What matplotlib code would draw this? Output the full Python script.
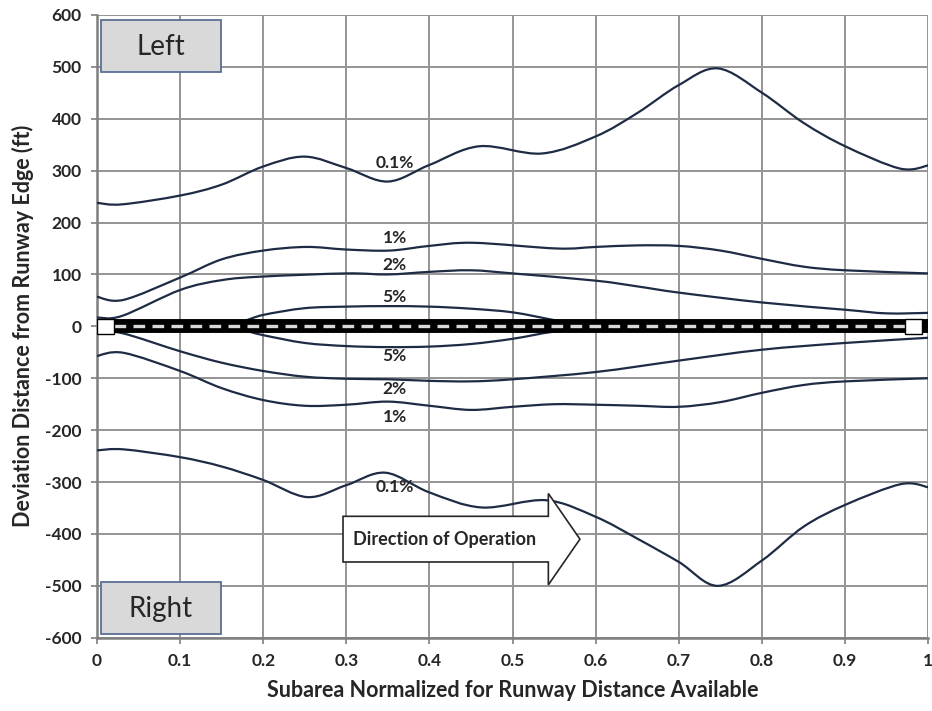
import numpy as np
import matplotlib.pyplot as plt
from matplotlib.path import Path
from matplotlib.patches import PathPatch, Rectangle, FancyArrow

plt.rcParams['font.family'] = ['Lato', 'DejaVu Sans']
plt.rcParams['axes.unicode_minus'] = False

# curvas (x normalizado, desvio em ft)
x_01_up = [0, 0.03, 0.1, 0.15, 0.2, 0.25, 0.3, 0.35, 0.4, 0.46, 0.535, 0.6, 0.65, 0.7, 0.747, 0.8, 0.85, 0.9, 0.966, 1.0]
y_01_up = [238, 235, 252, 273, 308, 327, 305, 279, 311, 347, 333, 366, 411, 465, 497, 450, 392, 347, 304, 310]

x_01_dn = [0, 0.032, 0.1, 0.15, 0.2, 0.253, 0.3, 0.347, 0.4, 0.463, 0.54, 0.6, 0.65, 0.7, 0.747, 0.8, 0.85, 0.9, 0.967, 1.0]
y_01_dn = [-239, -237, -252, -270, -296, -329, -306, -282, -320, -349, -335, -367, -409, -454, -500, -451, -386, -344, -304, -310]

x_1_up = [0, 0.032, 0.1, 0.15, 0.2, 0.252, 0.3, 0.352, 0.4, 0.453, 0.553, 0.6, 0.65, 0.7, 0.75, 0.8, 0.85, 0.9, 1.0]
y_1_up = [57, 51, 94, 129, 146, 153, 148, 146, 155, 161, 150, 153, 156, 155, 146, 130, 115, 108, 102]

x_1_dn = [0, 0.032, 0.1, 0.15, 0.2, 0.25, 0.3, 0.35, 0.4, 0.45, 0.5, 0.55, 0.6, 0.65, 0.7, 0.75, 0.8, 0.85, 0.9, 1.0]
y_1_dn = [-57, -51, -86, -119, -142, -153, -151, -145, -153, -161, -155, -150, -151, -153, -155, -146, -128, -113, -106, -100]

x_2_up = [0, 0.03, 0.1, 0.15, 0.2, 0.3, 0.35, 0.4, 0.45, 0.5, 0.6, 0.65, 0.7, 0.8, 0.9, 0.95, 1.0]
y_2_up = [17, 20, 70, 89, 96, 102, 100, 105, 108, 102, 88, 77, 65, 46, 32, 25, 26]

x_2_dn = [0, 0.03, 0.1, 0.15, 0.2, 0.25, 0.3, 0.35, 0.4, 0.45, 0.5, 0.6, 0.7, 0.8, 0.9, 1.0]
y_2_dn = [-12, -13, -48, -70, -86, -97, -101, -102, -105, -106, -102, -88, -66, -45, -32, -22]

x_5_up = [0.12, 0.17, 0.2, 0.25, 0.3, 0.35, 0.4, 0.45, 0.5, 0.55, 0.58, 0.62]
y_5_up = [0, 8, 22, 35, 38, 39, 38, 34, 27, 12, 3, 0]

x_5_dn = [0.12, 0.17, 0.2, 0.25, 0.3, 0.35, 0.4, 0.45, 0.5, 0.55, 0.6, 0.62]
y_5_dn = [0, -6, -17, -32, -38, -40, -39, -34, -24, -10, -2, 0]

curvas = [(x_01_up, y_01_up), (x_01_dn, y_01_dn), (x_1_up, y_1_up), (x_1_dn, y_1_dn),
          (x_2_up, y_2_up), (x_2_dn, y_2_dn), (x_5_up, y_5_up), (x_5_dn, y_5_dn)]

rotulos = ['0.1%', '1%', '2%', '5%', '5%', '2%', '1%', '0.1%']
rotulos_y = [315, 170, 118, 57, -57, -120, -175, -310]

runway_x = [0, 1]
runway_y = [0, 0]

x_ticks = [0, 0.1, 0.2, 0.3, 0.4, 0.5, 0.6, 0.7, 0.8, 0.9, 1]
x_ticklabels = ['0', '0.1', '0.2', '0.3', '0.4', '0.5', '0.6', '0.7', '0.8', '0.9', '1']
y_ticks = list(range(-600, 601, 100))


def bezier_suave(x, y):
    # curva suave tipo Excel (Catmull-Rom em Bezier cubica)
    p = np.column_stack([x, y]).astype(float)
    verts = [p[0]]
    codes = [Path.MOVETO]
    n = len(p)
    for i in range(n - 1):
        p0 = p[i - 1] if i > 0 else p[i]
        p3 = p[i + 2] if i + 2 < n else p[i + 1]
        c1 = p[i] + (p[i + 1] - p0) / 6
        c2 = p[i + 1] - (p3 - p[i]) / 6
        verts += [c1, c2, p[i + 1]]
        codes += [Path.CURVE4] * 3
    return Path(verts, codes)


fig = plt.figure(figsize=(9.32, 7.11), dpi=100)
ax = fig.add_axes([0.104, 0.103, 0.892, 0.876])
ax.set_xlim(0, 1)
ax.set_ylim(-600, 600)

ax.set_xticks(x_ticks)
ax.set_xticklabels(x_ticklabels)
ax.set_yticks(y_ticks)
ax.grid(True, color='#949494', lw=1.4)
ax.set_axisbelow(True)
for s in ['top', 'right']:
    ax.spines[s].set_visible(False)
for s in ['left', 'bottom']:
    ax.spines[s].set_color('#7f7f7f')
    ax.spines[s].set_linewidth(1.8)
ax.tick_params(length=4, color='#7f7f7f', width=1.2, labelsize=12.5, labelcolor='#262626', pad=7)
for lbl in ax.get_xticklabels() + ax.get_yticklabels():
    lbl.set_fontweight('bold')

for cx, cy in curvas:
    ax.add_patch(PathPatch(bezier_suave(cx, cy), fill=False, ec='#1f2b45', lw=1.6, zorder=3))

for txt, ty in zip(rotulos, rotulos_y):
    ax.text(0.358, ty, txt, ha='center', va='center', fontsize=12.5, fontweight='bold',
            color='#262626', zorder=4)

# pista
ax.plot(runway_x, runway_y, color='black', lw=10, solid_capstyle='butt', zorder=5)
ax.plot([0.02, 0.972], runway_y, color='white', lw=2.4, ls=(0, (3.5, 2.2)), alpha=0.85, zorder=6)
ax.add_patch(Rectangle((0.0, -14), 0.02, 28, fc='white', ec='black', lw=1, zorder=7))
ax.add_patch(Rectangle((0.972, -14), 0.02, 28, fc='white', ec='black', lw=1, zorder=7))

# caixas Left / Right
for yb, txt in [(490, 'Left'), (-593, 'Right')]:
    ax.add_patch(Rectangle((0.005, yb), 0.144, 100, fc='#d9d9d9', ec='#5a6f94', lw=1.3, zorder=8))
    ax.text(0.077, yb + 48, txt, ha='center', va='center', fontsize=20, color='#262626', zorder=9)

# seta de direcao
ax.add_patch(FancyArrow(0.296, -410, 0.285, 0, width=88, head_width=176, head_length=0.038,
                        length_includes_head=True, fc='white', ec='#262626', lw=1.2, zorder=8))
ax.text(0.418, -410, 'Direction of Operation', ha='center', va='center', fontsize=13,
        fontweight='bold', color='#262626', zorder=9)

ax.set_xlabel('Subarea Normalized for Runway Distance Available', fontsize=15.5,
              fontweight='bold', color='#262626', labelpad=8)
ax.set_ylabel('Deviation Distance from Runway Edge (ft)', fontsize=15.5,
              fontweight='bold', color='#262626', labelpad=8)

fig.savefig('out.png', dpi=100)
